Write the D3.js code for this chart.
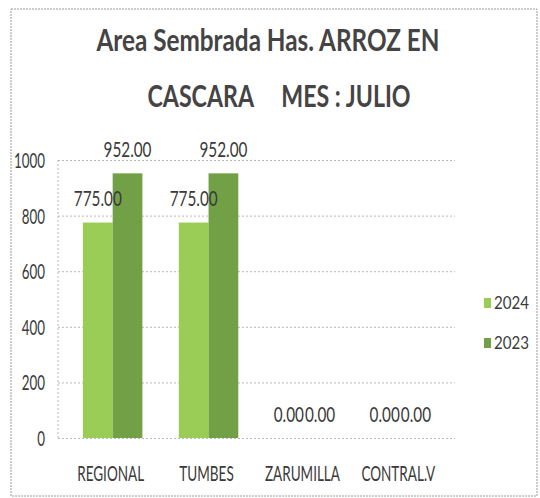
<!DOCTYPE html>
<html>
<head>
<meta charset="utf-8">
<script src="https://cdn.jsdelivr.net/npm/d3@7"></script>
<style>
  body { margin: 0; background: #fff; }
  text { font-family: Lato, "Open Sans", sans-serif; fill: #3a3a3a; }
  .grid line { stroke: #b8b8b8; stroke-dasharray: 2,2; }
  .grid path { display: none; }
</style>
</head>
<body>
<svg class="chart"></svg>
<script>
var categories = ['REGIONAL', 'TUMBES', 'ZARUMILLA', 'CONTRAL.V'];
var series = ['2024', '2023'];
var values2024 = [775, 775, 0, 0];
var values2023 = [952, 952, 0, 0];
var yTicks = [0, 200, 400, 600, 800, 1000];

var colors = d3.scaleOrdinal().domain(series).range(['#9acd55', '#71a046']);

var width = 540, height = 498;
var plot = {left: 58, right: 455, top: 160, bottom: 438};

// the scanned chart uses a tall narrow font, so squeeze every text of a group
// by the same ratio: the one that makes the sample text as wide as in the picture
function condense(sel, sample, target) {
    var probe = svg.append("text").attr("font-size", sel.attr("font-size")).text(sample);
    var k = target / probe.node().getComputedTextLength();
    probe.remove();
    sel.attr("transform", function() {
        var x = +d3.select(this).attr("x");
        return "translate(" + x + ",0) scale(" + k + ",1) translate(" + (-x) + ",0)";
    });
}

var svg = d3.select(".chart")
    .attr("width", width)
    .attr("height", height);

// outer frame
svg.append("rect")
    .attr("x", 11).attr("y", 9)
    .attr("width", 526).attr("height", 487)
    .attr("fill", "none")
    .attr("stroke", "#9a9a9a")
    .attr("stroke-dasharray", "2,1");

// title
var title = svg.append("text")
    .attr("text-anchor", "middle")
    .attr("font-weight", "bold")
    .attr("font-size", 31)
    .style("fill", "#444");
title.append("tspan").attr("x", 268).attr("y", 51)
    .attr("textLength", 343).attr("lengthAdjust", "spacingAndGlyphs")
    .text("Area Sembrada Has.  ARROZ EN");
title.append("tspan").attr("x", 279).attr("y", 107)
    .attr("textLength", 263).attr("lengthAdjust", "spacingAndGlyphs")
    .attr("xml:space", "preserve").text("CASCARA     MES : JULIO");

var x0 = d3.scaleBand()
    .domain(categories)
    .range([plot.left, plot.right])
    .paddingInner(0.38)
    .paddingOuter(0.26);

var x1 = d3.scaleBand()
    .domain(series)
    .range([0, x0.bandwidth()]);

var y = d3.scaleLinear()
    .domain([0, 1000])
    .range([plot.bottom, plot.top]);

// gridlines
svg.append("g")
    .attr("class", "grid")
    .attr("transform", "translate(" + plot.left + ",0)")
    .call(d3.axisLeft(y).tickValues(yTicks).tickSize(-(plot.right - plot.left)).tickFormat(""));

// left axis line
svg.append("line")
    .attr("x1", plot.left).attr("x2", plot.left)
    .attr("y1", plot.top).attr("y2", plot.bottom)
    .attr("stroke", "#b8b8b8")
    .attr("stroke-dasharray", "2,2");

// y tick labels
var yLabels = svg.append("g")
    .selectAll("text")
    .data(yTicks)
  .enter().append("text")
    .attr("x", 45)
    .attr("y", function(d) { return y(d); })
    .attr("dy", "0.36em")
    .attr("text-anchor", "end")
    .attr("font-size", 22)
    .text(function(d) { return d; });
condense(yLabels, "1000", 31);

// bars
var rows = categories.map(function(c, i) {
    return {cat: c, vals: [{s: '2024', v: values2024[i]}, {s: '2023', v: values2023[i]}]};
});

var group = svg.selectAll("g.cat")
    .data(rows)
  .enter().append("g")
    .attr("class", "cat")
    .attr("transform", function(d) { return "translate(" + x0(d.cat) + ",0)"; });

group.selectAll("rect")
    .data(function(d) { return d.vals; })
  .enter().append("rect")
    .attr("x", function(d) { return x1(d.s); })
    .attr("y", function(d) { return y(d.v); })
    .attr("width", x1.bandwidth())
    .attr("height", function(d) { return y(0) - y(d.v); })
    .attr("fill", function(d) { return colors(d.s); });

// zero labels sit side by side, so they read "0.000.00" like the original
var valueLabels = group.selectAll("text")
    .data(function(d) { return d.vals; })
  .enter().append("text")
    .attr("x", function(d) {
        if (d.v === 0) return x0.bandwidth() / 2 + (d.s === '2024' ? -0.5 : 0.5);
        return x1(d.s) + x1.bandwidth() / 2;
    })
    .attr("y", function(d) { return y(d.v) - 24; })
    .attr("dy", "0.36em")
    .attr("text-anchor", function(d) {
        if (d.v === 0) return d.s === '2024' ? "end" : "start";
        return "middle";
    })
    .attr("font-size", 21)
    .text(function(d) { return d.v.toFixed(2); });
condense(valueLabels, "775.00", 48);

// x labels
var xLabels = svg.append("g")
    .selectAll("text")
    .data(categories)
  .enter().append("text")
    .attr("x", function(d) { return x0(d) + x0.bandwidth() / 2 - 2; })
    .attr("y", 481)
    .attr("text-anchor", "middle")
    .attr("font-size", 21)
    .text(function(d) { return d; });
condense(xLabels, "REGIONAL", 67);

// legend
var legend = svg.selectAll("g.legend")
    .data(series)
  .enter().append("g")
    .attr("class", "legend")
    .attr("transform", function(d, i) { return "translate(484," + (303 + i * 40) + ")"; });

legend.append("rect")
    .attr("x", 0).attr("y", -5)
    .attr("width", 7).attr("height", 10)
    .attr("fill", function(d) { return colors(d); });

var legendLabels = legend.append("text")
    .attr("x", 10)
    .attr("dy", "0.36em")
    .attr("font-size", 18)
    .text(function(d) { return d; });
condense(legendLabels, "2024", 35);
</script>
</body>
</html>
